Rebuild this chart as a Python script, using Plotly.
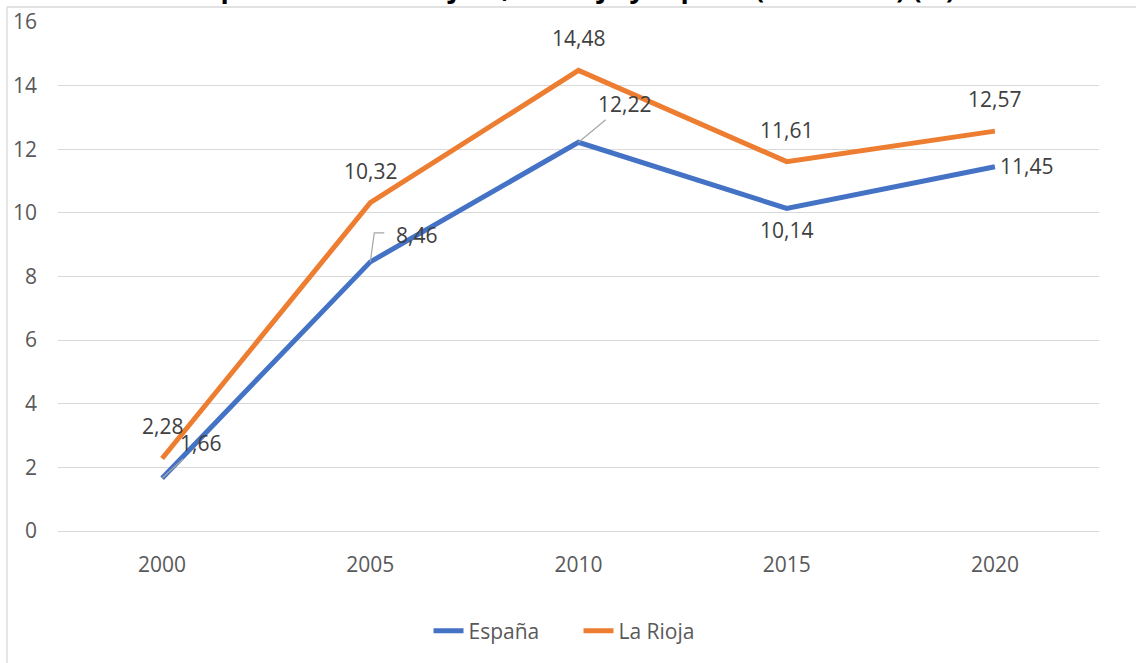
import plotly.graph_objects as go

years = ["2000", "2005", "2010", "2015", "2020"]
espana = [1.66, 8.46, 12.22, 10.14, 11.45]
rioja = [2.28, 10.32, 14.48, 11.61, 12.57]
espana_labels = ["1,66", "8,46", "12,22", "10,14", "11,45"]
rioja_labels = ["2,28", "10,32", "14,48", "11,61", "12,57"]
y_ticks = [0, 2, 4, 6, 8, 10, 12, 14, 16]
title_text = "La población extranjera, La Rioja y España (2000-2020) (%)"

BLUE = "#4472C4"
ORANGE = "#ED7D31"
GRID = "#d9d9d9"
LEADER = "#a6a6a6"
FONT = "Open Sans"

fig = go.Figure()
fig.add_trace(go.Scatter(x=years, y=espana, mode="lines", name="España",
                         line=dict(color=BLUE, width=5)))
fig.add_trace(go.Scatter(x=years, y=rioja, mode="lines", name="La Rioja",
                         line=dict(color=ORANGE, width=5)))

ann = []
lab_font = dict(family=FONT, size=21, color="#404040")
# La Rioja labels: above
for i, (v, t) in enumerate(zip(rioja, rioja_labels)):
    ann.append(dict(x=i, y=v, xref="x", yref="y", text=t, showarrow=False,
                    yshift=32, font=lab_font))
# España labels: (dx, dy up, straight leader?)
esp_off = [(38, 35, True), (46, 27, False), (46, 38, True), (0, -22, False), (32, 1, False)]
for i, (v, t, (dx, dy, arrow)) in enumerate(zip(espana, espana_labels, esp_off)):
    if arrow:
        ann.append(dict(x=i, y=v, xref="x", yref="y", text=t, showarrow=True,
                        ax=dx, ay=-dy,
                        arrowhead=0, arrowwidth=1.2, arrowcolor=LEADER,
                        standoff=0, startstandoff=0, font=lab_font))
    else:
        ann.append(dict(x=i, y=v, xref="x", yref="y", text=t, showarrow=False,
                        xshift=dx, yshift=dy, font=lab_font))

W, H = 1136, 663
L, R, T, B = 58, 37, 22, 132
pw, ph = W - L - R, H - T - B
def px_x(p):
    return (p - L) / pw
def px_y(p):
    return (H - B - p) / ph

# clipped title (only its lower part falls inside the picture)
ann.append(dict(x=0.49, y=1.0, xref="paper", yref="paper", text="<b>" + title_text + "</b>",
                showarrow=False, xanchor="center", yanchor="bottom", yshift=14,
                font=dict(family=FONT, size=27, color="#000000")))

shapes = [
    dict(type="line", xref="paper", yref="paper", x0=px_x(7), x1=px_x(1136), y0=px_y(7), y1=px_y(7),
         line=dict(color=GRID, width=1.3)),
    dict(type="line", xref="paper", yref="paper", x0=px_x(7), x1=px_x(7), y0=px_y(7), y1=px_y(663),
         line=dict(color=GRID, width=1.3)),
    # elbow leader line for the 2005 España label
    dict(type="path", xref="x", yref="y", xsizemode="pixel", ysizemode="pixel",
         xanchor=1, yanchor=espana[1], path="M 0,0 L 4,29 L 14,29",
         line=dict(color=LEADER, width=1.2)),
]

fig.update_layout(
    width=W, height=H,
    margin=dict(l=L, r=R, t=T, b=B),
    paper_bgcolor="white", plot_bgcolor="white",
    font=dict(family=FONT, size=21, color="#595959"),
    annotations=ann,
    shapes=shapes,
    showlegend=True,
    legend=dict(orientation="h", x=0.5, xanchor="center", y=px_y(631), yanchor="middle",
                entrywidth=105,
                font=dict(family=FONT, size=21, color="#595959"), bgcolor="rgba(0,0,0,0)"),
    xaxis=dict(type="category", range=[-0.5, 4.5], showgrid=False, showline=False,
               zeroline=False, ticks="", ticklabelstandoff=19, automargin=False,
               tickfont=dict(family=FONT, size=21, color="#595959")),
    yaxis=dict(range=[0, 16], tickvals=y_ticks, showgrid=True, gridcolor=GRID, gridwidth=1.3,
               zeroline=True, zerolinecolor=GRID, zerolinewidth=1.3, showline=False,
               ticks="", ticklabelstandoff=20, automargin=False,
               tickfont=dict(family=FONT, size=21, color="#595959")),
)

fig.write_html("out.html", config={"displayModeBar": False})
with open("out.html", "r", encoding="utf-8") as f:
    html = f.read()
html = html.replace("<head>", "<head><style>html,body{margin:0;padding:0;overflow:hidden}</style>", 1)
with open("out.html", "w", encoding="utf-8") as f:
    f.write(html)
